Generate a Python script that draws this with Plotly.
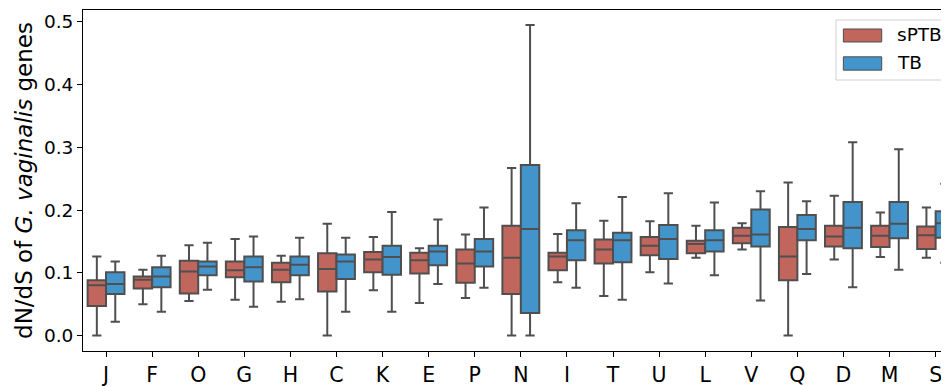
import plotly.graph_objects as go

categories = ["J", "F", "O", "G", "H", "C", "K", "E", "P", "N",
              "I", "T", "U", "L", "V", "Q", "D", "M", "S"]

# sPTB group statistics
sptb_low = [0.000, 0.050, 0.055, 0.057, 0.054, 0.000, 0.072, 0.052, 0.060, 0.000,
            0.085, 0.063, 0.101, 0.124, 0.137, 0.000, 0.121, 0.125, 0.124]
sptb_q1 = [0.047, 0.075, 0.067, 0.093, 0.085, 0.070, 0.101, 0.099, 0.084, 0.066,
           0.104, 0.115, 0.128, 0.131, 0.147, 0.088, 0.142, 0.141, 0.138]
sptb_med = [0.080, 0.089, 0.102, 0.104, 0.105, 0.106, 0.121, 0.120, 0.115, 0.124,
            0.126, 0.137, 0.143, 0.146, 0.159, 0.126, 0.158, 0.159, 0.160]
sptb_q3 = [0.088, 0.094, 0.119, 0.118, 0.116, 0.131, 0.133, 0.132, 0.137, 0.175,
           0.132, 0.153, 0.157, 0.151, 0.172, 0.173, 0.175, 0.175, 0.174]
sptb_high = [0.126, 0.105, 0.144, 0.154, 0.127, 0.178, 0.157, 0.139, 0.161, 0.267,
             0.162, 0.183, 0.182, 0.175, 0.179, 0.244, 0.223, 0.196, 0.204]

# TB group statistics
tb_low = [0.022, 0.038, 0.073, 0.046, 0.058, 0.038, 0.038, 0.082, 0.076, 0.000,
          0.076, 0.057, 0.083, 0.096, 0.056, 0.098, 0.077, 0.105, 0.116]
tb_q1 = [0.066, 0.077, 0.096, 0.086, 0.096, 0.090, 0.097, 0.112, 0.110, 0.036,
         0.120, 0.117, 0.122, 0.134, 0.142, 0.152, 0.139, 0.155, 0.156]
tb_med = [0.082, 0.094, 0.110, 0.109, 0.113, 0.118, 0.125, 0.134, 0.134, 0.170,
          0.152, 0.152, 0.154, 0.152, 0.161, 0.170, 0.172, 0.178, 0.179]
tb_q3 = [0.101, 0.109, 0.118, 0.126, 0.126, 0.129, 0.143, 0.143, 0.154, 0.272,
         0.168, 0.164, 0.176, 0.168, 0.201, 0.192, 0.213, 0.213, 0.198]
tb_high = [0.118, 0.127, 0.148, 0.158, 0.156, 0.156, 0.197, 0.185, 0.204, 0.495,
           0.211, 0.221, 0.227, 0.212, 0.230, 0.214, 0.308, 0.297, 0.242]

series_names = ["sPTB", "TB"]
y_ticks = [0.0, 0.1, 0.2, 0.3, 0.4, 0.5]
y_tick_text = ["0.0", "0.1", "0.2", "0.3", "0.4", "0.5"]

RED = "#c1665c"
BLUE = "#4394cb"
EDGE = "#4f4f4f"
FONT = "DejaVu Sans"

fig = go.Figure()
fig.add_trace(go.Box(
    name=series_names[0], x=categories,
    q1=sptb_q1, median=sptb_med, q3=sptb_q3,
    lowerfence=sptb_low, upperfence=sptb_high,
    fillcolor=RED, line=dict(color=EDGE, width=2),
    whiskerwidth=0.5, boxpoints=False, showlegend=False,
))
fig.add_trace(go.Box(
    name=series_names[1], x=categories,
    q1=tb_q1, median=tb_med, q3=tb_q3,
    lowerfence=tb_low, upperfence=tb_high,
    fillcolor=BLUE, line=dict(color=EDGE, width=2),
    whiskerwidth=0.5, boxpoints=False, showlegend=False,
))

# custom legend (matplotlib style): frame, patches, labels (paper coords)
fig.add_shape(type="rect", xref="paper", yref="paper",
              x0=0.8695, x1=1.03, y0=0.7947, y1=0.9707,
              line=dict(color="#d0d0d0", width=1),
              fillcolor="rgba(255,255,255,0.85)", layer="above")
patch_rows = [(0.9062, 0.9443, RED), (0.8236, 0.8627, BLUE)]
for (y0, y1, col) in patch_rows:
    fig.add_shape(type="rect", xref="paper", yref="paper",
                  x0=0.8780, x1=0.9223, y0=y0, y1=y1,
                  line=dict(color=EDGE, width=1), fillcolor=col, layer="above")
for name, ymid in zip(series_names, [0.9267, 0.8455]):
    fig.add_annotation(text=name, xref="paper", yref="paper",
                       x=0.9375, y=ymid, xanchor="left", yanchor="middle",
                       showarrow=False,
                       font=dict(family=FONT, size=18.5, color="#000000"))

fig.update_layout(
    width=941, height=378,
    margin=dict(l=75, r=0, t=2, b=35, autoexpand=False),
    paper_bgcolor="white", plot_bgcolor="white",
    boxmode="group", boxgap=0.2, boxgroupgap=0.0,
    font=dict(family=FONT, color="#000000"),
    showlegend=False,
)
fig.update_xaxes(
    type="category", range=[-0.5, 18.29], automargin=False,
    showline=True, linecolor="#000000", linewidth=1, mirror=True,
    ticks="outside", ticklen=5, tickcolor="#000000", tickwidth=1,
    tickfont=dict(family=FONT, size=20.5, color="#000000"),
    showgrid=False, zeroline=False,
)
fig.update_yaxes(
    range=[-0.0247, 0.519], automargin=False,
    tickvals=y_ticks, ticktext=y_tick_text,
    showline=True, linecolor="#000000", linewidth=1, mirror=False,
    ticks="outside", ticklen=5, tickcolor="#000000", tickwidth=1,
    tickfont=dict(family=FONT, size=18.5, color="#000000"),
    showgrid=False, zeroline=False,
    title=dict(text="dN/dS of <i>G. vaginalis</i> genes",
               font=dict(family=FONT, size=23, color="#000000"), standoff=4),
)

fig.write_html("out.html")
